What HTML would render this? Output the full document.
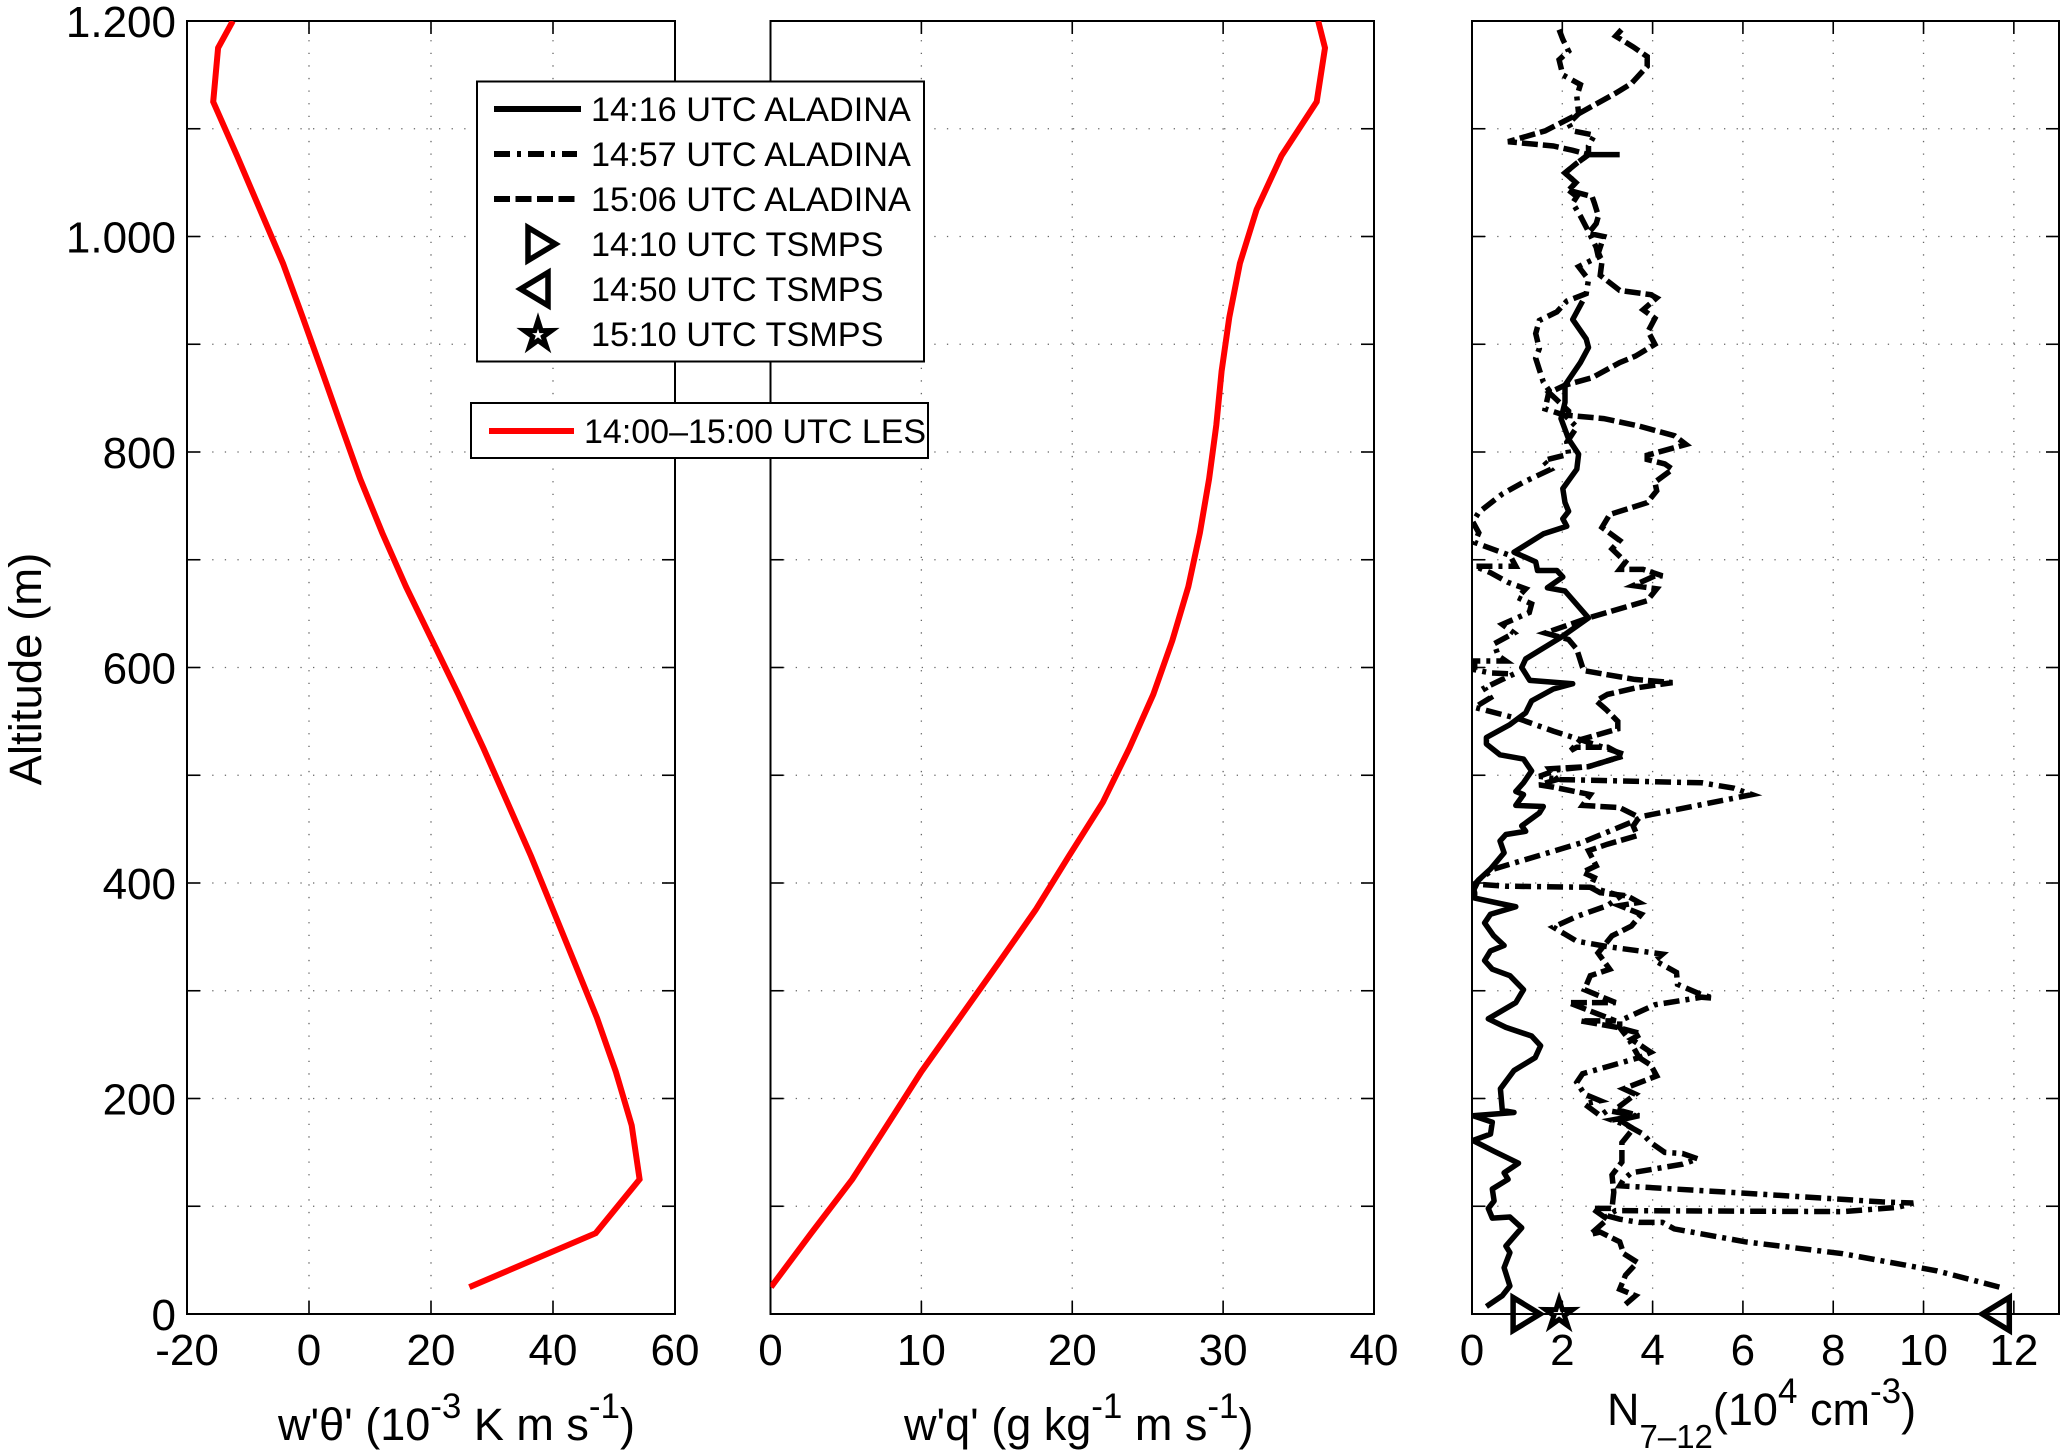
<!DOCTYPE html>
<html lang="en">
<head>
<meta charset="utf-8">
<title>Vertical profiles</title>
<style>
html,body{margin:0;padding:0;background:#fff;}
svg{display:block;font-family:"Liberation Sans",sans-serif;fill:#000;}
</style>
</head>
<body>
<svg id="chart" xmlns="http://www.w3.org/2000/svg" width="2066" height="1455" viewBox="0 0 2066 1455">
<rect x="0" y="0" width="2066" height="1455" fill="#fff"/>
<g id="panels"></g>

<text transform="translate(41,669) rotate(-90)" text-anchor="middle" font-size="45.5">Altitude (m)</text>

<text x="278" y="1440" font-size="45">w'θ' (10<tspan font-size="35" dy="-22">-3</tspan><tspan dy="22"> K m s</tspan><tspan font-size="35" dy="-22">-1</tspan><tspan dy="22">)</tspan></text>
<text x="904" y="1440" font-size="45">w'q' (g kg<tspan font-size="35" dy="-22">-1</tspan><tspan dy="22"> m s</tspan><tspan font-size="35" dy="-22">-1</tspan><tspan dy="22">)</tspan></text>
<text x="1607" y="1425" font-size="45">N<tspan font-size="33" dy="23">7–12</tspan><tspan dy="-23">(10</tspan><tspan font-size="35" dy="-22">4</tspan><tspan dy="22"> cm</tspan><tspan font-size="35" dy="-22">-3</tspan><tspan dy="22">)</tspan></text>

<g>
  <rect x="477" y="81.5" width="447" height="280" fill="#fff" stroke="#000" stroke-width="2"/>
  <g>
    <line x1="494" x2="581" y1="109" y2="109" stroke="#000" stroke-width="6"/>
    <text x="591" y="121" font-size="34.25">14:16 UTC ALADINA</text>
  </g>
  <g>
    <line x1="494" x2="577" y1="154" y2="154" stroke="#000" stroke-width="6" stroke-dasharray="16 7 4 7"/>
    <text x="591" y="166" font-size="34.25">14:57 UTC ALADINA</text>
  </g>
  <g>
    <line x1="494" x2="577" y1="199" y2="199" stroke="#000" stroke-width="6" stroke-dasharray="16 5.5"/>
    <text x="591" y="211" font-size="34.25">15:06 UTC ALADINA</text>
  </g>
  <g>
    <polygon points="528,227.5 555.5,244 528,260.5" fill="#fff" stroke="#000" stroke-width="5.5"/>
    <text x="591" y="256" font-size="34.25">14:10 UTC TSMPS</text>
  </g>
  <g>
    <polygon points="548,272.5 520.5,289 548,305.5" fill="#fff" stroke="#000" stroke-width="5.5"/>
    <text x="591" y="301" font-size="34.25">14:50 UTC TSMPS</text>
  </g>
  <g>
    <polygon points="538,320.5 541.2,330.6 551.8,330.5 543.2,336.7 546.5,346.7 538,340.5 529.5,346.7 532.8,336.7 524.2,330.5 534.8,330.6" fill="#fff" stroke="#000" stroke-width="5"/>
    <text x="591" y="346" font-size="34.25">15:10 UTC TSMPS</text>
  </g>
</g>

<g>
  <rect x="471" y="403" width="457" height="55" fill="#fff" stroke="#000" stroke-width="2"/>
  <line x1="489" x2="574" y1="431" y2="431" stroke="#f00" stroke-width="6"/>
  <text x="584" y="443" font-size="34">14:00–15:00 UTC LES</text>
</g>
</svg>

<script>
// ---------- data ----------
const altitudeTicks = [0,100,200,300,400,500,600,700,800,900,1000,1100,1200];
const altitudeTickLabels = ['0','','200','','400','','600','','800','','1.000','','1.200'];

const heatFluxTicks = [-20,0,20,40,60];
const moistureFluxTicks = [0,10,20,30,40];
const numberTicks = [0,2,4,6,8,10,12];

const lesAltitudes = [25,75,125,175,225,275,325,375,425,475,525,575,625,675,725,775,825,875,925,975,1025,1075,1125,1175,1200];
const lesHeatFlux = [26.3,47,54.2,52.9,50.3,47.2,43.6,40,36.4,32.5,28.6,24.5,20.2,15.9,12.0,8.4,5.25,2.13,-1.04,-4.26,-8.03,-11.8,-15.7,-14.9,-12.5];
const lesMoistureFlux = [0.03,2.7,5.42,7.72,10.0,12.54,15.08,17.57,19.78,22.03,23.78,25.37,26.63,27.69,28.46,29.07,29.55,29.9,30.41,31.11,32.22,33.87,36.2,36.75,36.3];

const aladina1416N = [
 .32,.67,.84,.71,.84,.75,1.10,.84,.45,.36,
 .49,.45,.80,.71,1.03,.49,.02,.41,.45,.02,
 .93,.67,.63,.93,1.40,1.52,1.32,.75,.36,
 .97,1.14,.84,.45,.28,.41,.71,.48,.28,.41,
 .97,.62,.06,.06,.02,.15,.41,.71,.62,.75,
 1.19,1.10,1.49,1.58,.97,1.14,.97,1.14,1.32,1.14,
 .62,.32,.32,.84,1.19,1.32,1.8,2.23,1.28,1.10,
 1.19,1.97,2.58,2.06,1.67,2.01,1.88,1.45,1.41,.93,
 1.58,2.1,2.01,2.14,2.06,2.01,2.32,2.36,2.14,1.97,
 2.06,2.06,2.40,2.58,2.53,2.23,2.45];
const aladina1416Alt = [
 7,17,26,43,57,63,80,90,89,98,
 105,116,125,131,140,151,161,167,178,184,
 187,189,209,226,238,249,258,266,274,
 289,301,314,320,328,337,342,351,363,371,
 378,381,386,391,397,403,413,428,439,445,
 448,453,465,471,472,482,485,493,504,515,
 519,529,535,547,558,569,580,585,588,600,
 608,628,646,671,674,684,690,690,698,707,
 724,731,738,745,753,766,784,798,812,831,
 846,862,883,897,905,923,940];

const aladina1457N = [
 11.68,10.3,8.21,6.05,4.48,4.22,3.7,3.27,3.0,3.18,
 8.21,9.43,9.6,9.77,9.08,6.48,3.7,3.27,3.36,3.53,
 4.66,5.0,4.66,4.27,3.96,3.79,3.44,3.1,3.62,3.0,
 2.84,2.49,2.84,2.49,2.32,2.45,3.7,3.49,3.27,3.27,
 4.05,5.09,5.35,5.05,4.55,4.53,4.05,4.22,3.0,2.32,
 1.8,2.32,3.0,3.3,2.62,.77,.06,.02,.15,.49,
 2.40,3.62,3.79,6.2,5.8,5.09,1.97,1.49,1.88,2.58,
 3.36,3.4,2.4,1.8,1.06,.06,.41,.28,.67,.93,
 .4,.06,.06,.75,.58,.49,.93,.67,1.27,1.32,
 1.01,1.19,.8,.41,.06,.97,.84,.06,.15,.02,
 .15,.67,1.14,1.75,1.58,2.14,2.1,2.32,2.06,1.62,
 1.71,1.58,1.41,1.49,1.41,1.49,1.88,2.1,2.53,2.58,
 2.36,2.6,2.8,2.75,2.6,2.4,2.23,2.32,2.14,2.3,
 2.06,2.32,2.58,2.58,2.71,2.23,2.14,2.36,2.32,2.4,
 2.01,1.93,2.14,2.01,1.93];
const aladina1457Alt = [
 25,40,56,67,79,85,85,88,91,96,
 95,99,101,103,104,111,118,119,125,131,
 139,144,149,150,159,167,175,180,184,189,
 184,195,198,204,215,223,238,254,266,272,
 287,294,293,297,306,317,328,334,341,346,
 359,369,379,388,396,397,399,392,403,413,
 437,458,462,482,488,493,496,499,505,508,
 518,519,533,541,552,563,572,581,589,594,
 595,598,606,606,611,622,632,640,651,659,
 665,673,679,688,694,694,704,716,725,735,
 744,761,772,784,792,798,809,823,834,840,
 857,865,887,896,910,922,930,940,947,960,
 972,977,981,990,1003,1019,1031,1037,1043,1050,
 1059,1068,1076,1084,1094,1098,1105,1114,1130,1141,
 1150,1164,1172,1183,1192];

const aladina1506N = [
 3.4,3.62,3.27,3.4,3.66,3.36,3.27,2.84,2.62,3.0,
 2.66,3.1,3.14,3.1,3.32,3.32,3.57,3.27,3.7,3.18,
 3.62,3.36,4.09,3.96,3.7,3.96,3.53,3.75,3.22,2.4,
 3.18,2.14,3.18,2.49,2.62,3.05,2.79,3.1,3.53,3.75,
 3.27,3.7,3.44,2.84,2.62,2.71,2.45,2.75,2.58,3.0,
 3.66,3.57,3.7,3.27,2.45,2.62,1.8,1.49,1.88,1.71,
 2.58,3.36,3.01,2.32,2.19,2.4,3.23,3.23,2.97,2.75,
 3.0,3.62,4.44,3.6,2.49,2.45,2.32,2.14,1.62,2.58,
 3.88,4.09,3.57,4.05,4.22,3.79,3.27,3.4,3.1,3.27,
 2.88,3.05,3.88,4.09,4.05,4.44,4.27,3.88,3.88,4.74,
 4.49,3.7,2.92,2.14,2.14,1.71,2.06,2.66,3.27,3.62,
 4.05,3.9,4.05,3.79,4.09,3.96,3.27,2.84,2.88,2.8,
 2.92,2.58,2.75,2.8,2.71,2.66,2.14,2.3,2.06,2.32,
 2.58,3.27,2.58,2.23,1.8,.8,1.62,2.32,3.18,3.53,
 3.88,3.88,3.57,3.18,3.31];
const aladina1506Alt = [
 9,17,23,36,48,56,67,76,74,88,
 98,98,113,129,141,159,172,180,184,190,
 204,209,221,231,238,243,255,260,266,272,
 272,289,289,301,314,320,335,351,360,371,
 379,382,388,391,396,405,410,416,430,436,
 444,453,461,470,472,482,489,491,496,506,
 508,518,526,526,523,533,543,550,561,569,
 575,581,586,589,597,600,617,626,632,646,
 662,673,676,685,685,691,691,698,710,718,
 730,742,753,764,772,784,789,793,797,807,
 815,824,831,834,838,855,862,869,883,889,
 900,912,924,932,943,946,950,964,977,985,
 1000,1003,1012,1019,1031,1037,1043,1050,1059,1068,
 1076,1076,1076,1080,1084,1088,1098,1113,1133,1142,
 1158,1167,1176,1186,1192];

const tsmps1410N = [1.21];
const tsmps1450N = [11.6];
const tsmps1510N = [1.93];
const tsmpsAlt = [0];

// ---------- layout ----------
const plotTop = 21, plotBottom = 1314;
const altMax = 1200;
const NS = 'http://www.w3.org/2000/svg';
const root = document.getElementById('panels');

function yScale(alt){ return plotBottom - (alt/altMax)*(plotBottom-plotTop); }
function makeXScale(left,right,min,max){ return function(v){ return left + (v-min)/(max-min)*(right-left); }; }
function mk(tag,parent){ const el = document.createElementNS(NS,tag); parent.appendChild(el); return el; }

function drawAxes(group,left,right,xScale,xTicks,xMin,xMax,showY,clipId){
  const clipPath = mk('clipPath',group);
  clipPath.setAttribute('id',clipId);
  const clipRect = mk('rect',clipPath);
  clipRect.setAttribute('x',left);
  clipRect.setAttribute('y',plotTop);
  clipRect.setAttribute('width',right-left);
  clipRect.setAttribute('height',plotBottom-plotTop);

  altitudeTicks.forEach(function(t,i){
    const y = yScale(t);
    if(t>0 && t<altMax){
      const g = mk('line',group);
      
      
      g.setAttribute('x1',left); g.setAttribute('x2',right);
      g.setAttribute('y1',y); g.setAttribute('y2',y);
      g.setAttribute('stroke','#666'); g.setAttribute('stroke-width','1.3');
      g.setAttribute('stroke-dasharray','1.3 11.3');
    }
    [[left,left+13],[right,right-13]].forEach(function(p){
      const tk = mk('line',group);
      
      
      tk.setAttribute('x1',p[0]); tk.setAttribute('x2',p[1]);
      tk.setAttribute('y1',y); tk.setAttribute('y2',y);
      tk.setAttribute('stroke','#000'); tk.setAttribute('stroke-width','1.6');
    });
    if(showY && altitudeTickLabels[i]){
      const lb = mk('text',group);
      
      
      lb.setAttribute('x',left-11);
      lb.setAttribute('y',y+16);
      lb.setAttribute('text-anchor','end');
      lb.setAttribute('font-size','44');
      lb.textContent = altitudeTickLabels[i];
    }
  });

  xTicks.forEach(function(t){
    const x = xScale(t);
    if(t>xMin && t<xMax){
      const g = mk('line',group);
      
      
      g.setAttribute('x1',x); g.setAttribute('x2',x);
      g.setAttribute('y1',plotBottom); g.setAttribute('y2',plotTop);
      g.setAttribute('stroke','#666'); g.setAttribute('stroke-width','1.3');
      g.setAttribute('stroke-dasharray','1.3 11.3');
      [[plotBottom,plotBottom-13],[plotTop,plotTop+13]].forEach(function(p){
        const tk = mk('line',group);
        
        
        tk.setAttribute('x1',x); tk.setAttribute('x2',x);
        tk.setAttribute('y1',p[0]); tk.setAttribute('y2',p[1]);
        tk.setAttribute('stroke','#000'); tk.setAttribute('stroke-width','1.6');
      });
    }
    const lb = mk('text',group);
    
    
    lb.setAttribute('x',x);
    lb.setAttribute('y',plotBottom+51);
    lb.setAttribute('text-anchor','middle');
    lb.setAttribute('font-size','44');
    lb.textContent = String(t);
  });

  const frame = mk('rect',group);
  
  
  frame.setAttribute('x',left);
  frame.setAttribute('y',plotTop);
  frame.setAttribute('width',right-left);
  frame.setAttribute('height',plotBottom-plotTop);
  frame.setAttribute('fill','none');
  frame.setAttribute('stroke','#000');
  frame.setAttribute('stroke-width','2');
}

function linePoints(xValues,altValues,xScale){
  return xValues.map(function(v,i){ return xScale(v).toFixed(1)+','+yScale(altValues[i]).toFixed(1); }).join(' ');
}

function trianglePoints(cx,cy,dir){
  return [[-13.5*dir,-16.5],[13.5*dir,0],[-13.5*dir,16.5]].map(function(p){ return (cx+p[0]).toFixed(1)+','+(cy+p[1]).toFixed(1); }).join(' ');
}
function starPoints(cx,cy,rOuter,rInner){
  const pts = [];
  for(let i=0;i<10;i++){
    const r = i%2===0 ? rOuter : rInner;
    const a = -Math.PI/2 + i*Math.PI/5;
    pts.push((cx+r*Math.cos(a)).toFixed(1)+','+(cy+r*Math.sin(a)).toFixed(1));
  }
  return pts.join(' ');
}

// ---------- panel 1: heat flux ----------
const heatPanel = mk('g',root);


const xHeat = makeXScale(187,675,-20,60);
drawAxes(heatPanel,187,675,xHeat,heatFluxTicks,-20,60,true,'clip-heat');
const heatLine = mk('polyline',heatPanel);


heatLine.setAttribute('points',linePoints(lesHeatFlux,lesAltitudes,xHeat));
heatLine.setAttribute('fill','none');
heatLine.setAttribute('stroke','#f00');
heatLine.setAttribute('stroke-width','6');
heatLine.setAttribute('clip-path','url(#clip-heat)');

// ---------- panel 2: moisture flux ----------
const moistPanel = mk('g',root);


const xMoist = makeXScale(770.5,1374,0,40);
drawAxes(moistPanel,770.5,1374,xMoist,moistureFluxTicks,0,40,false,'clip-moist');
const moistLine = mk('polyline',moistPanel);


moistLine.setAttribute('points',linePoints(lesMoistureFlux,lesAltitudes,xMoist));
moistLine.setAttribute('fill','none');
moistLine.setAttribute('stroke','#f00');
moistLine.setAttribute('stroke-width','6');
moistLine.setAttribute('clip-path','url(#clip-moist)');

// ---------- panel 3: particle number ----------
const numPanel = mk('g',root);


const xNum = makeXScale(1472,2059,0,13);
drawAxes(numPanel,1472,2059,xNum,numberTicks,0,13,false,'clip-num');

const line1416 = mk('polyline',numPanel);


line1416.setAttribute('points',linePoints(aladina1416N,aladina1416Alt,xNum));
line1416.setAttribute('fill','none');
line1416.setAttribute('stroke','#000');
line1416.setAttribute('stroke-width','5.5');
line1416.setAttribute('stroke-linejoin','round');
line1416.setAttribute('clip-path','url(#clip-num)');

const line1457 = mk('polyline',numPanel);


line1457.setAttribute('points',linePoints(aladina1457N,aladina1457Alt,xNum));
line1457.setAttribute('fill','none');
line1457.setAttribute('stroke','#000');
line1457.setAttribute('stroke-width','5.5');
line1457.setAttribute('stroke-dasharray','16 6 4 6');
line1457.setAttribute('clip-path','url(#clip-num)');

const line1506 = mk('polyline',numPanel);


line1506.setAttribute('points',linePoints(aladina1506N,aladina1506Alt,xNum));
line1506.setAttribute('fill','none');
line1506.setAttribute('stroke','#000');
line1506.setAttribute('stroke-width','5.5');
line1506.setAttribute('stroke-dasharray','16 5');
line1506.setAttribute('clip-path','url(#clip-num)');

const marker1410 = mk('polygon',numPanel);


marker1410.setAttribute('points',trianglePoints(xNum(tsmps1410N[0]),yScale(tsmpsAlt[0]),1));
marker1410.setAttribute('fill','none');
marker1410.setAttribute('stroke','#000');
marker1410.setAttribute('stroke-width','5.5');

const marker1450 = mk('polygon',numPanel);


marker1450.setAttribute('points',trianglePoints(xNum(tsmps1450N[0]),yScale(tsmpsAlt[0]),-1));
marker1450.setAttribute('fill','none');
marker1450.setAttribute('stroke','#000');
marker1450.setAttribute('stroke-width','5.5');

const marker1510 = mk('polygon',numPanel);


marker1510.setAttribute('points',starPoints(xNum(tsmps1510N[0]),yScale(tsmpsAlt[0]),14.5,5.5));
marker1510.setAttribute('fill','none');
marker1510.setAttribute('stroke','#000');
marker1510.setAttribute('stroke-width','5');
</script>
</body>
</html>
